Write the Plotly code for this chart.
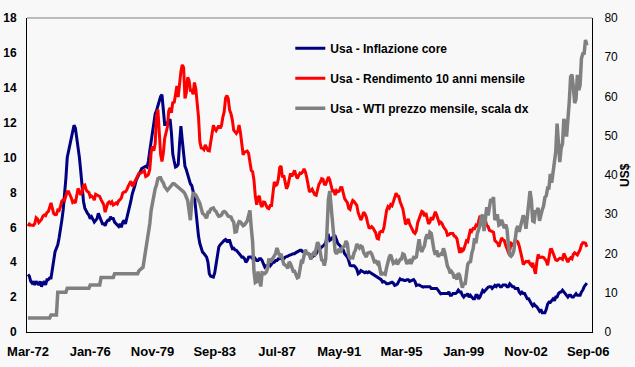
import pandas as pd
import plotly.graph_objects as go

# ---------------- data (monthly, Mar-1972 .. Aug-2006) ----------------
MONTHS = pd.date_range("1972-03-01", "2006-08-01", freq="MS")
MONTH_LABELS = [d.strftime("%b-%y") for d in MONTHS]

TICK_LABELS = ["Mar-72", "Jan-76", "Nov-79", "Sep-83", "Jul-87",
               "May-91", "Mar-95", "Jan-99", "Nov-02", "Sep-06"]

CORE_INFLATION = (
    [3.3, 3.2, 2.9, 2.8, 2.9, 2.7, 2.9, 2.8, 2.7, 2.9] +
    [2.6, 2.8, 2.9, 2.7, 3.0, 3.0, 3.1, 3.1, 3.5, 4.1, 4.6, 4.8] +
    [5.0, 5.4, 5.8, 6.4, 7.0, 7.8, 8.8, 10.0, 10.4, 10.8, 11.1, 11.4] +
    [11.85, 11.7, 11.2, 10.6, 10.0, 9.2, 8.1, 7.5, 7.1, 6.9, 6.8, 6.7] +
    [6.5, 6.6, 6.4, 6.3, 6.4, 6.5, 6.8, 6.6, 6.3, 6.2, 6.2, 6.1] +
    [6.3, 6.4, 6.4, 6.6, 6.5, 6.5, 6.3, 6.2, 6.1, 6.05, 6.2, 6.0] +
    [6.3, 6.4, 6.2, 6.5, 6.9, 7.2, 7.5, 7.9, 8.1, 8.4, 8.7, 8.9] +
    [9.0, 9.2, 9.37, 9.4, 9.45, 9.5, 9.45, 9.8, 10.4, 11.0, 11.6, 12.2] +
    [12.5, 12.7, 13.0, 13.3, 13.5, 13.6, 12.6, 11.9, 11.9, 12.0, 12.1, 12.2] +
    [11.4, 10.2, 9.8, 9.46, 9.5, 9.6, 10.8, 11.8, 11.0, 10.0, 9.5, 9.3] +
    [9.0, 8.8, 8.5, 8.4, 8.1, 7.74, 7.0, 6.0, 5.5, 5.07, 4.8, 4.58] +
    [4.5, 4.4, 4.29, 4.0, 3.34, 3.2, 3.15, 3.15, 3.4, 3.9, 4.3, 4.87] +
    [5.0, 5.1, 5.2, 5.25, 5.3, 5.2, 5.25, 5.25, 5.0, 4.78, 4.8, 4.7] +
    [4.68, 4.6, 4.5, 4.4, 4.29, 4.3, 4.2, 4.0, 4.1, 4.29, 4.3, 4.3] +
    [4.2, 4.3, 4.2, 4.1, 4.1, 4.2, 4.2, 4.1, 3.9, 3.72, 3.8, 3.8] +
    [3.9, 3.8, 3.9, 4.0, 4.0, 4.1, 4.1, 4.2, 4.2, 4.3, 4.2, 4.2] +
    [4.29, 4.3, 4.35, 4.39, 4.4, 4.45, 4.49, 4.49, 4.55, 4.6, 4.6, 4.68] +
    [4.68, 4.6, 4.6, 4.58, 4.5, 4.5, 4.45, 4.29, 4.3, 4.35, 4.4, 4.5] +
    [4.68, 4.7, 4.8, 4.87, 4.9, 5.0, 5.1, 5.5, 5.54, 5.25, 5.3, 5.4] +
    [5.54, 5.5, 5.3, 5.07, 5.0, 4.9, 4.8, 4.7, 4.49, 4.4, 4.3, 4.1] +
    [3.82, 3.8, 3.8, 3.8, 3.72, 3.6, 3.34, 3.4, 3.53, 3.5, 3.45, 3.4] +
    [3.44, 3.4, 3.45, 3.4, 3.3, 3.3, 3.2, 3.15, 3.15, 3.1, 3.0, 3.0] +
    [2.86, 2.9, 2.85, 2.76, 2.76, 2.8, 2.8, 2.85, 2.8, 2.67, 2.7, 2.75] +
    [2.9, 3.05, 3.0, 3.0, 2.95, 2.95, 3.0, 3.0, 2.9, 2.95, 3.0, 3.0] +
    [2.9, 2.67, 2.7, 2.7, 2.65, 2.6, 2.57, 2.6, 2.6, 2.6, 2.6, 2.6] +
    [2.5, 2.5, 2.47, 2.5, 2.5, 2.4, 2.3, 2.19, 2.2, 2.2, 2.2, 2.2] +
    [2.2, 2.3, 2.1, 2.1, 2.2, 2.2, 2.2, 2.28, 2.4, 2.3, 2.3, 2.1] +
    [2.0, 2.1, 2.1, 2.2, 2.0, 2.1, 2.0, 1.9, 1.9, 2.1, 2.1, 1.9] +
    [2.0, 2.2, 2.38, 2.3, 2.4, 2.5, 2.57, 2.6, 2.6, 2.5, 2.6, 2.67] +
    [2.6, 2.7, 2.7, 2.6, 2.6, 2.7, 2.7, 2.7, 2.6, 2.6, 2.76, 2.7] +
    [2.6, 2.6, 2.5, 2.5, 2.5, 2.3, 2.2, 2.28, 2.2, 2.2, 2.0, 1.9] +
    [1.9, 1.7, 1.62, 1.5, 1.6, 1.5, 1.45, 1.33, 1.2, 1.3, 1.1, 1.1] +
    [1.1, 1.3, 1.6, 1.71, 1.7, 1.8, 1.9, 1.8, 2.0, 2.0, 2.2, 2.28] +
    [2.3, 2.4, 2.3, 2.2, 2.1, 2.0, 2.1, 2.1, 2.0, 2.0, 2.1, 2.2] +
    [2.1, 2.1, 2.1, 2.3, 2.4, 2.6, 2.7, 2.8]
)

YIELD_10Y = (
    [6.07, 6.19, 6.13, 6.11, 6.11, 6.21, 6.55, 6.48, 6.28, 6.36] +
    [6.46, 6.64, 6.71, 6.67, 6.85, 6.90, 7.13, 7.40, 7.09, 6.79, 6.73, 6.74] +
    [6.99, 6.96, 7.21, 7.51, 7.58, 7.54, 7.81, 8.04, 8.04, 7.90, 7.68, 7.43] +
    [7.50, 7.39, 7.73, 8.23, 8.06, 7.86, 8.06, 8.40, 8.43, 8.14, 8.05, 8.00] +
    [7.74, 7.79, 7.73, 7.56, 7.90, 7.86, 7.83, 7.77, 7.59, 7.41, 7.29, 6.87] +
    [7.21, 7.39, 7.46, 7.37, 7.46, 7.28, 7.33, 7.40, 7.34, 7.52, 7.58, 7.69] +
    [7.96, 8.03, 8.04, 8.15, 8.35, 8.46, 8.64, 8.41, 8.42, 8.64, 8.81, 9.01] +
    [9.10, 9.10, 9.12, 9.18, 9.25, 8.91, 8.95, 9.03, 9.33, 10.30, 10.65, 10.39] +
    [10.80, 12.41, 12.75, 11.47, 10.18, 9.78, 10.25, 11.10, 11.51, 11.75, 12.68, 12.84] +
    [12.57, 13.19, 13.12, 13.68, 14.10, 13.47, 14.28, 14.94, 15.32, 15.15, 13.39, 13.72] +
    [14.59, 14.43, 13.86, 13.87, 13.62, 14.30, 13.95, 13.06, 12.34, 10.91, 10.55, 10.54] +
    [10.46, 10.72, 10.51, 10.40, 10.38, 10.85, 11.38, 11.85, 11.65, 11.54, 11.69, 11.83] +
    [11.67, 11.84, 12.32, 12.63, 13.41, 13.56, 13.36, 12.72, 12.52, 12.16, 11.57, 11.50] +
    [11.38, 11.51, 11.86, 11.43, 10.85, 10.16, 10.31, 10.33, 10.37, 10.24, 9.78, 9.26] +
    [9.19, 8.70, 7.78, 7.30, 7.71, 7.80, 7.30, 7.17, 7.45, 7.43, 7.25, 7.11] +
    [7.08, 7.25, 7.25, 8.02, 8.61, 8.40, 8.45, 8.76, 9.42, 9.52, 8.86, 8.99] +
    [8.67, 8.21, 8.37, 8.72, 9.09, 8.92, 9.06, 9.26, 8.98, 8.80, 8.96, 9.11] +
    [9.09, 9.17, 9.36, 9.18, 8.86, 8.28, 8.02, 8.11, 8.19, 8.01, 7.87, 7.84] +
    [8.21, 8.47, 8.59, 8.79, 8.76, 8.48, 8.47, 8.75, 8.89, 8.72, 8.39, 8.08] +
    [8.09, 7.85, 8.11, 8.04, 8.07, 8.28, 8.27, 7.90, 7.65, 7.53, 7.42, 7.09] +
    [7.03, 7.34, 7.54, 7.48, 7.39, 7.26, 6.84, 6.59, 6.42, 6.59, 6.87, 6.77] +
    [6.60, 6.26, 5.98, 5.97, 6.04, 5.96, 5.81, 5.68, 5.36, 5.33, 5.72, 5.77] +
    [5.75, 5.97, 6.48, 6.97, 7.18, 7.10, 7.30, 7.24, 7.46, 7.74, 7.96, 7.81] +
    [7.78, 7.47, 7.20, 7.06, 6.63, 6.17, 6.28, 6.49, 6.20, 6.04, 5.93, 5.71] +
    [5.65, 5.81, 6.27, 6.51, 6.74, 6.91, 6.87, 6.64, 6.83, 6.53, 6.20, 6.30] +
    [6.58, 6.42, 6.69, 6.89, 6.71, 6.49, 6.22, 6.30, 6.21, 6.03, 5.88, 5.81] +
    [5.54, 5.57, 5.65, 5.64, 5.65, 5.50, 5.46, 5.34, 4.81, 4.53, 4.83, 4.65] +
    [4.72, 5.00, 5.23, 5.18, 5.54, 5.90, 5.79, 5.94, 5.92, 6.11, 6.03, 6.28] +
    [6.66, 6.52, 6.26, 5.99, 6.44, 6.10, 6.05, 5.83, 5.80, 5.74, 5.72, 5.24] +
    [5.16, 5.10, 4.89, 5.14, 5.39, 5.28, 5.24, 4.97, 4.73, 4.57, 4.65, 5.09] +
    [5.04, 4.91, 5.28, 5.21, 5.16, 4.93, 4.65, 4.26, 3.87, 3.94, 4.05, 4.03] +
    [4.05, 3.90, 3.81, 3.96, 3.57, 3.33, 3.98, 4.45, 4.27, 4.29, 4.30, 4.27] +
    [4.15, 4.08, 3.83, 4.35, 4.72, 4.73, 4.50, 4.28, 4.13, 4.10, 4.19, 4.23] +
    [4.22, 4.17, 4.50, 4.34, 4.14, 4.00, 4.18, 4.26, 4.20, 4.46, 4.54, 4.47] +
    [4.42, 4.57, 4.72, 4.99, 5.11, 5.11, 5.09, 4.88]
)

WTI_PRICE = (
    [3.56, 3.56, 3.56, 3.56, 3.56, 3.56, 3.56, 3.56, 3.56, 3.56] +
    [3.56, 3.56, 3.56, 3.56, 3.56, 3.56, 3.56, 4.31, 4.31, 4.31, 4.31, 4.31] +
    [10.11, 10.11, 10.11, 10.11, 10.11, 10.11, 10.11, 11.16, 11.16, 11.16, 11.16, 11.16] +
    [11.16, 11.16, 11.16, 11.16, 11.16, 11.16, 11.16, 11.16, 11.16, 11.16, 11.16, 11.16] +
    [12.0, 12.0, 12.0, 12.0, 12.0, 12.0, 12.0, 12.0, 13.9, 13.9, 13.9, 13.9] +
    [13.9, 13.9, 13.9, 13.9, 13.9, 13.9, 14.85, 14.85, 14.85, 14.85, 14.85, 14.85] +
    [14.85, 14.85, 14.85, 14.85, 14.85, 14.85, 14.85, 14.85, 14.85, 14.85, 14.85, 14.85] +
    [15.6, 15.8, 16.2, 16.5, 18.5, 20.5, 22.5, 25.0, 27.6, 31.0, 33.0, 35.0] +
    [36.5, 37.5, 39.1, 39.3, 39.3, 38.5, 38.0, 37.0, 36.3, 36.1, 36.5, 37.0] +
    [37.5, 37.8, 37.8, 37.5, 37.2, 37.0, 36.8, 36.5, 36.0, 35.7, 35.2, 34.4] +
    [33.5, 31.0, 28.5, 33.0, 35.3, 35.2, 34.9, 34.2, 33.5, 32.8, 31.5, 30.2] +
    [30.0, 29.3, 29.0, 30.5, 30.5, 31.3, 31.5, 31.6, 31.0, 30.7, 30.0, 29.5] +
    [29.6, 29.8, 30.5, 30.7, 30.5, 30.0, 29.5, 29.4, 29.3, 28.5, 28.0, 25.5] +
    [25.6, 27.3, 28.1, 28.0, 27.6, 27.1, 27.3, 27.8, 28.3, 29.6, 31.0, 26.5] +
    [22.9, 15.4, 12.6, 12.8, 15.4, 13.5, 11.6, 15.1, 14.9, 14.9, 15.2, 16.1] +
    [18.7, 17.8, 18.3, 18.7, 19.4, 20.0, 21.4, 20.3, 19.5, 19.9, 18.9, 17.3] +
    [17.1, 16.8, 16.2, 17.9, 17.4, 16.5, 15.5, 15.5, 14.5, 13.8, 14.0, 16.3] +
    [18.0, 17.9, 19.5, 21.0, 20.0, 20.0, 19.6, 18.5, 19.6, 20.1, 19.8, 21.1] +
    [22.9, 22.1, 20.4, 18.4, 18.2, 16.9, 18.6, 27.2, 33.7, 35.9, 32.3, 27.3] +
    [25.2, 20.5, 19.9, 20.8, 21.2, 20.2, 21.4, 21.7, 21.9, 23.2, 22.5, 19.5] +
    [18.8, 19.0, 18.9, 20.2, 20.9, 22.4, 21.8, 21.4, 21.9, 21.7, 20.3, 19.4] +
    [19.1, 20.1, 20.3, 20.3, 19.9, 19.1, 17.9, 18.0, 17.5, 18.1, 16.7, 14.5] +
    [15.0, 14.8, 14.7, 16.4, 17.9, 19.1, 19.7, 18.4, 17.5, 17.7, 18.1, 17.2] +
    [18.0, 18.5, 18.6, 19.9, 19.7, 18.4, 17.3, 18.0, 18.2, 17.4, 18.0, 19.0] +
    [18.9, 19.1, 21.4, 23.6, 21.2, 20.4, 21.3, 22.0, 24.0, 24.9, 23.7, 25.4] +
    [25.1, 22.2, 20.9, 19.7, 20.8, 19.2, 19.6, 19.9, 19.8, 21.3, 20.2, 18.3] +
    [16.7, 16.1, 15.0, 15.4, 14.9, 13.7, 14.1, 13.4, 15.0, 14.4, 12.9, 11.3] +
    [12.5, 12.0, 14.7, 17.3, 17.8, 17.9, 20.1, 21.3, 23.9, 22.6, 25.0, 26.1] +
    [27.2, 29.4, 29.9, 25.7, 28.8, 31.8, 29.7, 31.3, 33.9, 33.1, 34.4, 28.5] +
    [29.6, 29.6, 27.2, 27.4, 28.6, 27.6, 26.4, 27.4, 26.2, 22.2, 19.6, 19.3] +
    [19.7, 20.7, 24.5, 26.2, 27.0, 25.5, 26.9, 28.4, 29.7, 28.8, 26.3, 29.4] +
    [32.9, 35.9, 33.5, 28.3, 28.1, 30.7, 30.8, 31.6, 28.3, 30.3, 31.1, 32.1] +
    [34.3, 34.7, 36.7, 36.7, 40.3, 38.0, 40.7, 44.9, 45.9, 53.1, 48.5, 43.3] +
    [46.8, 48.0, 54.3, 53.0, 49.8, 56.3, 58.7, 65.0, 65.6, 62.4, 58.3, 59.4] +
    [65.5, 61.6, 62.9, 69.7, 70.9, 71.0, 74.4, 73.0]
)

SERIES_NAMES = ["Usa - Inflazione core",
                "Usa - Rendimento 10 anni mensile",
                "Usa - WTI prezzo mensile, scala dx"]
RIGHT_AXIS_TITLE = "US$"

# ---------------- figure ----------------
FONT = "Liberation Sans, Arial, sans-serif"
x_idx = list(range(len(MONTHS)))
tick_pos = [MONTH_LABELS.index(t) if t in MONTH_LABELS else len(MONTHS) for t in TICK_LABELS]

fig = go.Figure()
fig.add_trace(go.Scatter(x=x_idx, y=CORE_INFLATION, name=SERIES_NAMES[0], mode="lines",
                         line=dict(color="#000080", width=3), legendgroup="a"))
fig.add_trace(go.Scatter(x=x_idx, y=YIELD_10Y, name=SERIES_NAMES[1], mode="lines",
                         line=dict(color="#FF0000", width=3), legendgroup="b"))
fig.add_trace(go.Scatter(x=x_idx, y=WTI_PRICE, name=SERIES_NAMES[2], mode="lines",
                         line=dict(color="#808080", width=3.5), legendgroup="c", yaxis="y2"))

fig.update_layout(
    width=635, height=367, autosize=False,
    margin=dict(l=27, r=43, t=18, b=35, pad=0, autoexpand=False),
    paper_bgcolor="#f8f8f8", plot_bgcolor="#f8f8f8",
    font=dict(family=FONT, size=12, color="black"),
    showlegend=True,
    legend=dict(x=0.466, y=0.95, xanchor="left", yanchor="top",
                bgcolor="rgba(0,0,0,0)", borderwidth=0,
                font=dict(family=FONT, size=12, color="black", weight="bold"),
                traceorder="grouped", tracegroupgap=11, itemwidth=30),
    xaxis=dict(range=[-0.74, 416.8], tickmode="array", tickvals=tick_pos, ticktext=TICK_LABELS,
               showgrid=False, zeroline=False, showline=True, linecolor="black", linewidth=1,
               ticks="", ticklabelstandoff=7, automargin=False,
               tickfont=dict(family=FONT, size=13, color="black", weight="bold")),
    yaxis=dict(range=[0, 18], dtick=2, showgrid=False, zeroline=False,
               showline=True, linecolor="black", linewidth=1, ticks="",
               ticklabelstandoff=7, automargin=False,
               tickfont=dict(family=FONT, size=12, color="black", weight="bold")),
    yaxis2=dict(range=[0, 80], dtick=10, overlaying="y", side="right", showgrid=False,
                zeroline=False, showline=True, linecolor="black", linewidth=1, ticks="",
                ticklabelstandoff=9, automargin=False,
                tickfont=dict(family=FONT, size=12, color="black")),
    shapes=[dict(type="line", xref="paper", yref="paper", x0=0, x1=1, y0=1, y1=1,
                 line=dict(color="#808080", width=1))],
    annotations=[dict(text=RIGHT_AXIS_TITLE, xref="paper", yref="paper",
                      x=(625 - 27) / 565, y=0.5, xanchor="center", yanchor="middle",
                      textangle=-90, showarrow=False,
                      font=dict(family=FONT, size=12, color="black", weight="bold"))],
)

fig.write_html("out.html",
               config={"displayModeBar": False},
               post_script="document.body.style.margin='0px';"
                           "document.body.style.overflow='hidden';")
